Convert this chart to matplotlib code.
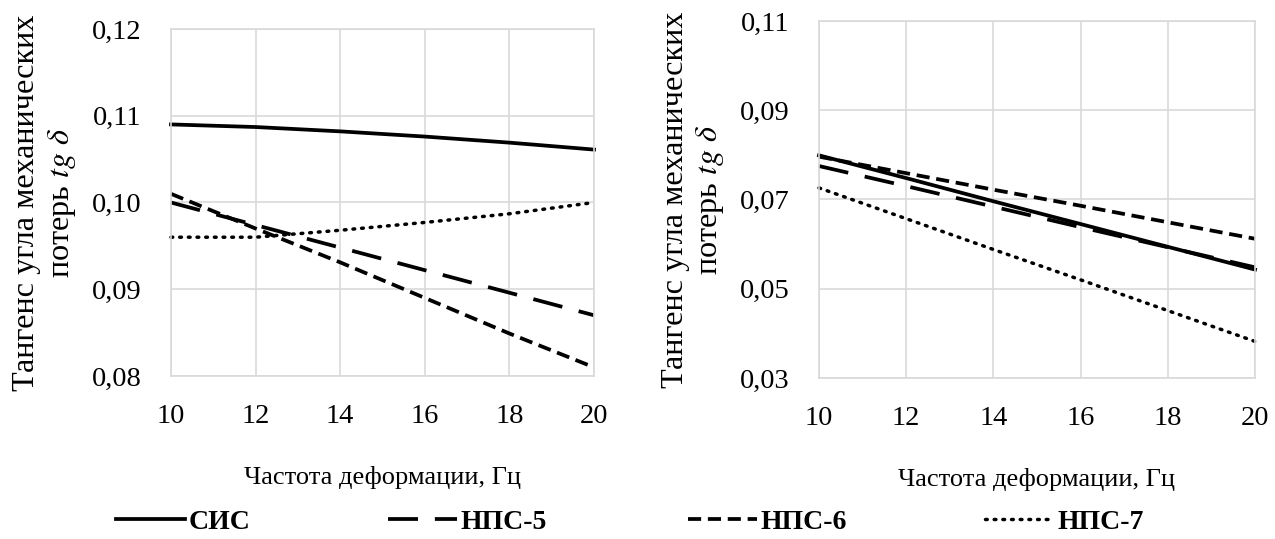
import numpy as np
import matplotlib
matplotlib.use("Agg")
from matplotlib import pyplot as plt

plt.rcParams['font.family'] = ['Liberation Serif', 'DejaVu Serif']
plt.rcParams['mathtext.fontset'] = 'stix'

# frequency, Hz
freq = [10, 12, 14, 16, 18, 20]

# left panel
left_sis = [0.1090, 0.1087, 0.1082, 0.1076, 0.1069, 0.1061]
left_nps5 = [0.1000, 0.0974, 0.0948, 0.0922, 0.0896, 0.0870]
left_nps6 = [0.1010, 0.0970, 0.0931, 0.0890, 0.0849, 0.0810]
left_nps7 = [0.0960, 0.0960, 0.0968, 0.0977, 0.0987, 0.1000]

# right panel
right_sis = [0.0799, 0.0748, 0.0696, 0.0645, 0.0594, 0.0543]
right_nps5 = [0.0775, 0.0730, 0.0684, 0.0638, 0.0593, 0.0548]
right_nps6 = [0.0796, 0.0759, 0.0722, 0.0686, 0.0649, 0.0612]
right_nps7 = [0.0726, 0.0657, 0.0588, 0.0520, 0.0451, 0.0382]

series_names = ['СИС', 'НПС-5', 'НПС-6', 'НПС-7']
xticks = [10, 12, 14, 16, 18, 20]
left_yticks = [0.08, 0.09, 0.10, 0.11, 0.12]
right_yticks = [0.03, 0.05, 0.07, 0.09, 0.11]

styles = [
    dict(linestyle='-', lw=2.7),
    dict(linestyle=(0, (8, 4.5)), lw=2.7),
    dict(linestyle=(0, (3.5, 1.8)), lw=2.7),
    dict(linestyle=(0, (0.5, 2.0)), lw=2.5, dash_capstyle='round'),
]
legend_x = [116, 388, 688, 985]  # left edge of each legend entry, px

fig = plt.figure(figsize=(12.75, 5.39), dpi=100)
ax1 = fig.add_axes([171 / 1275, 1 - 376 / 539, 423 / 1275, 347 / 539])
ax2 = fig.add_axes([819 / 1275, 1 - 378 / 539, 436 / 1275, 357 / 539])


def style_axes(ax, yticks):
    ax.set_xlim(10, 20)
    ax.set_ylim(yticks[0], yticks[-1])
    ax.set_xticks(xticks)
    ax.set_yticks(yticks)
    ax.set_yticklabels([('%.2f' % v).replace('.', ',') for v in yticks])
    ax.grid(True, color='#d9d9d9', lw=1.2)
    ax.set_axisbelow(True)
    for s in ax.spines.values():
        s.set_color('#d9d9d9')
        s.set_linewidth(1.2)
    ax.tick_params(length=0, labelsize=20.5, pad=0)
    ax.tick_params(axis='x', pad=20)
    ax.tick_params(axis='y', pad=21)
    ax.set_xlabel('Частота деформации, Гц', fontsize=19, labelpad=27)
    ax.set_ylabel('Тангенс угла механических\nпотерь $tg\\ \\delta$',
                  fontsize=23.2, labelpad=10)


lines = []
for ax, data, yt in [(ax1, [left_sis, left_nps5, left_nps6, left_nps7], left_yticks),
                     (ax2, [right_sis, right_nps5, right_nps6, right_nps7], right_yticks)]:
    style_axes(ax, yt)
    hs = []
    for vals, st, name in zip(data, styles, series_names):
        h, = ax.plot(freq, vals, color='black', label=name, clip_on=False, **st)
        hs.append(h)
    lines = hs

for h, name, x in zip(lines, series_names, legend_x):
    fig.legend([h], [name], loc='center left', bbox_to_anchor=(x / 1275, 1 - 522 / 539),
               frameon=False, borderpad=0, borderaxespad=0, handlelength=2.5,
               handletextpad=0.1, prop=dict(family='Liberation Serif', weight='bold', size=20))

fig.savefig('out.png', dpi=100)
